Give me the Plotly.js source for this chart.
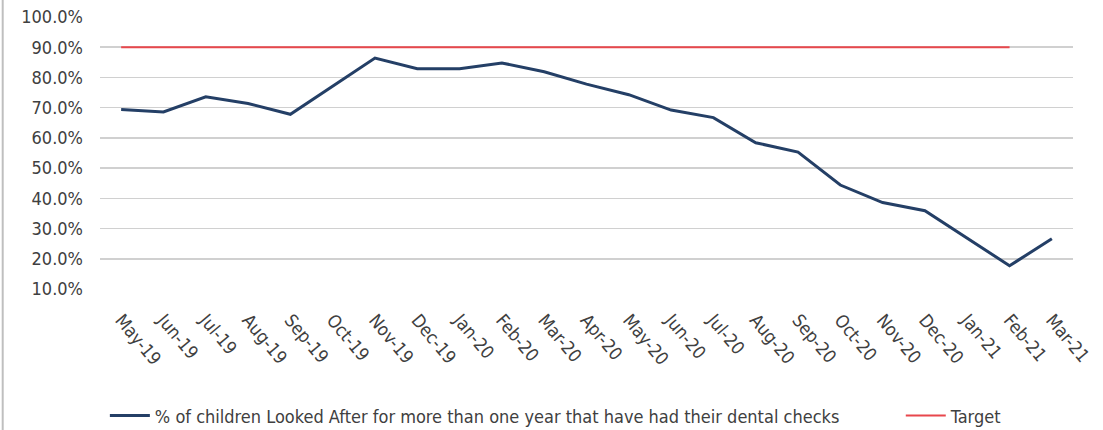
<!DOCTYPE html>
<html>
<head>
<meta charset="utf-8">
<script src="https://cdn.plot.ly/plotly-3.0.1.min.js"></script>
<style>html,body{margin:0;padding:0;background:#fff;}#chart{width:1103px;height:430px;}</style>
</head>
<body>
<div id="chart"></div>
<script>
var months = ["May-19","Jun-19","Jul-19","Aug-19","Sep-19","Oct-19","Nov-19","Dec-19","Jan-20","Feb-20","Mar-20","Apr-20","May-20","Jun-20","Jul-20","Aug-20","Sep-20","Oct-20","Nov-20","Dec-20","Jan-21","Feb-21","Mar-21"];
var dentalChecks = [69.4, 68.6, 73.6, 71.4, 67.8, 77.0, 86.4, 82.9, 82.9, 84.8, 81.9, 77.8, 74.3, 69.2, 66.7, 58.4, 55.3, 44.4, 38.6, 35.9, 26.8, 17.7, 26.6];
var target = [90,90,90,90,90,90,90,90,90,90,90,90,90,90,90,90,90,90,90,90,90,90,null];
var yTicks = [10,20,30,40,50,60,70,80,90,100];
var seriesNames = ["% of children Looked After for more than one year that have had their dental checks", "Target"];

var fontFam = "'Liberation Sans Narrow', 'DejaVu Sans Condensed', 'Open Sans', sans-serif";
var txtCol = "#404040";

var traces = [
  {x: months, y: dentalChecks, type: "scatter", mode: "lines", name: seriesNames[0],
   legend: "legend", line: {color: "#243F66", width: 3}},
  {x: months, y: target, type: "scatter", mode: "lines", name: seriesNames[1],
   legend: "legend2", line: {color: "#E8474C", width: 2}}
];

var legStyle = function(xpos) {
  return {orientation: "h", xref: "paper", yref: "container", x: xpos, xanchor: "left",
          y: 0.033, yanchor: "middle", itemwidth: 40, bgcolor: "rgba(0,0,0,0)",
          font: {family: fontFam, size: 18, color: txtCol}};
};

var layout = {
  width: 1103, height: 430,
  margin: {l: 100, r: 30, t: 17, b: 141, autoexpand: false},
  paper_bgcolor: "#ffffff", plot_bgcolor: "#ffffff",
  font: {family: fontFam, size: 18, color: txtCol},
  showlegend: true,
  legend: legStyle(0.005),
  legend2: legStyle(0.823),
  xaxis: {type: "category", categoryorder: "array", categoryarray: months,
          range: [-0.5, 22.5], tickangle: 50, showgrid: false, zeroline: false,
          showline: false, ticks: "", ticklabelstandoff: 16, automargin: false,
          tickfont: {family: fontFam, size: 18, color: txtCol}},
  yaxis: {range: [10, 100], tickvals: yTicks, ticktext: yTicks.map(function(v){return v.toFixed(1)+"%";}),
          showgrid: true, gridcolor: "#D0D0D0", gridwidth: 1.5, zeroline: false, showline: false,
          ticks: "", ticklabelstandoff: 16, automargin: false,
          tickfont: {family: fontFam, size: 18, color: txtCol}},
  shapes: [{type: "line", xref: "paper", yref: "paper", x0: -0.1, x1: -0.1, y0: -0.52, y1: 1.07,
            line: {color: "#BFBFBF", width: 2}}]
};

Plotly.newPlot("chart", traces, layout, {staticPlot: true, displayModeBar: false});
</script>
</body>
</html>
